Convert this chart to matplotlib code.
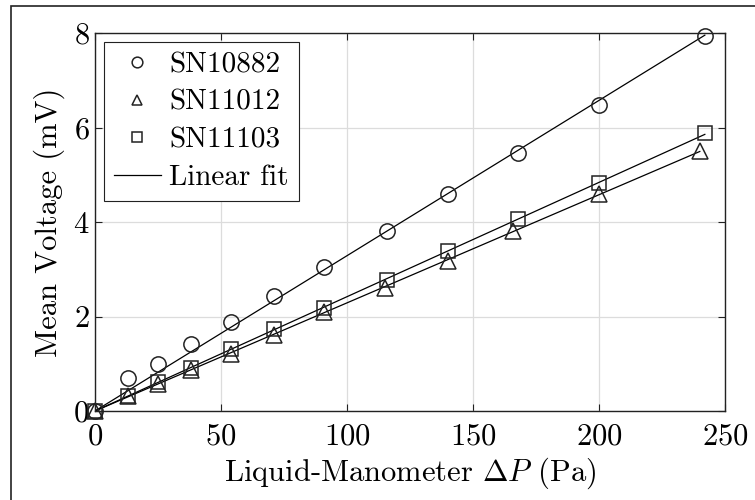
import matplotlib
matplotlib.use("Agg")
import matplotlib.pyplot as plt
import numpy as np
from matplotlib.patches import Rectangle

plt.rcParams['font.family'] = 'serif'
plt.rcParams['font.serif'] = ['cmr10']
plt.rcParams['mathtext.fontset'] = 'cm'
plt.rcParams['axes.unicode_minus'] = False
plt.rcParams['axes.formatter.use_mathtext'] = True

# datos
x_10882 = [0, 13, 25, 38, 54, 71, 91, 116, 140, 168, 200, 242]
v_10882 = [0, 0.70, 0.99, 1.42, 1.89, 2.43, 3.05, 3.81, 4.59, 5.47, 6.48, 7.94]

x_11012 = [0, 13, 25, 38, 54, 71, 91, 115, 140, 166, 200, 240]
v_11012 = [0, 0.31, 0.57, 0.87, 1.20, 1.61, 2.09, 2.60, 3.17, 3.81, 4.60, 5.51]

x_11103 = [0, 13, 25, 38, 54, 71, 91, 116, 140, 168, 200, 242]
v_11103 = [0, 0.32, 0.61, 0.92, 1.31, 1.73, 2.19, 2.78, 3.38, 4.06, 4.83, 5.88]

series = [("SN10882", x_10882, v_10882, 'o'),
          ("SN11012", x_11012, v_11012, '^'),
          ("SN11103", x_11103, v_11103, 's')]

fig = plt.figure(figsize=(7.55, 5.0), dpi=100)
ax = fig.add_axes([95/755, 89/500, 630/755, 378/500])

for name, x, v, m in series:
    ax.plot(x, v, linestyle='none', marker=m, markersize=11 if m != 's' else 10,
            markerfacecolor='none', markeredgecolor='#222222', markeredgewidth=1.1,
            label=name, clip_on=False, zorder=3)

# ajuste lineal por el origen de cada serie
for i, (name, x, v, m) in enumerate(series):
    x = np.array(x, dtype=float)
    v = np.array(v, dtype=float)
    k = np.sum(x * v) / np.sum(x * x)
    xx = np.array([0, x.max()])
    ax.plot(xx, k * xx, color='black', linewidth=0.9,
            label='Linear fit' if i == 0 else None)

ax.set_xlim(0, 250)
ax.set_ylim(0, 8)
ax.set_xticks([0, 50, 100, 150, 200, 250])
ax.set_yticks([0, 2, 4, 6, 8])
ax.grid(True, color='#dcdcdc', linewidth=0.9)
ax.set_axisbelow(True)
ax.tick_params(direction='in', top=True, right=True, labelsize=22, length=5,
               width=0.8, color='#222222')
ax.tick_params(axis='x', pad=9)
ax.tick_params(axis='y', pad=4)
for s in ax.spines.values():
    s.set_linewidth(1.0)
    s.set_color('#222222')

ax.set_xlabel(r'Liquid-Manometer $\Delta P$ (Pa)', fontsize=22, labelpad=3)
ax.set_ylabel('Mean Voltage (mV)', fontsize=22, labelpad=6)

leg = ax.legend(loc='upper left', fontsize=21, frameon=True, fancybox=False,
                edgecolor='#222222', framealpha=1, borderpad=0.35,
                labelspacing=0.38, handlelength=1.6, handletextpad=0.3,
                borderaxespad=0.3, markerscale=0.7)
leg.get_frame().set_linewidth(0.8)

fig.patches.append(Rectangle((11/755, -0.01), 1.0, 494/500 + 0.01,
                             transform=fig.transFigure, fill=False,
                             edgecolor='#222222', linewidth=1.2))

fig.savefig('out.png', dpi=100)
